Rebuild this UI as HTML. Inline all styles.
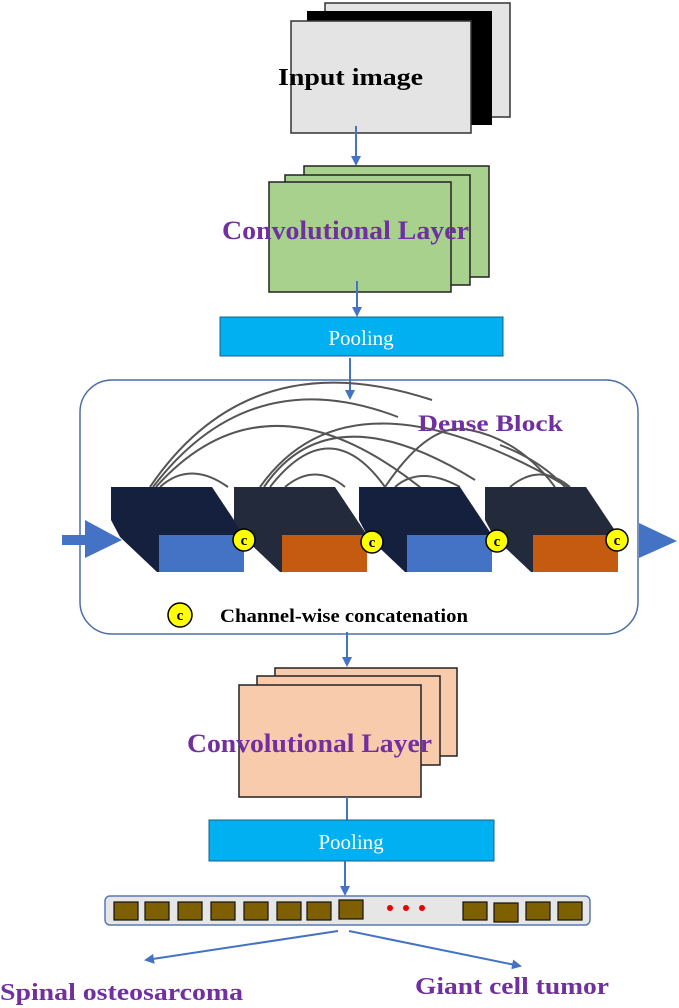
<!DOCTYPE html>
<html><head><meta charset="utf-8"><style>
html,body{margin:0;padding:0;background:#fff;}
svg{display:block;}
text{font-family:"Liberation Serif",serif;font-weight:bold;}
</style></head><body>
<svg width="679" height="1008" viewBox="0 0 679 1008" xmlns="http://www.w3.org/2000/svg">
<defs>
<marker id="ah" markerWidth="10" markerHeight="10" refX="8" refY="5" orient="auto" markerUnits="userSpaceOnUse">
<path d="M0,0 L10,5 L0,10 Z" fill="#4472c4"/></marker>
</defs>

<!-- Input image stack -->
<rect x="325" y="3" width="185" height="114" fill="#e4e4e4" stroke="#333" stroke-width="1.5"/>
<rect x="307" y="11" width="185" height="114" fill="#000"/>
<rect x="291" y="21" width="180" height="112" fill="#e4e4e4" stroke="#333" stroke-width="1.5"/>
<text x="278" y="85" font-size="24" fill="#000" textLength="145" lengthAdjust="spacingAndGlyphs">Input image</text>
<line x1="356" y1="126" x2="356" y2="164" stroke="#4472c4" stroke-width="2" marker-end="url(#ah)"/>

<!-- Conv green -->
<rect x="304" y="166" width="185" height="111" fill="#a9d18e" stroke="#222" stroke-width="1.5"/>
<rect x="285" y="175" width="185" height="110" fill="#a9d18e" stroke="#222" stroke-width="1.5"/>
<rect x="269" y="182" width="182" height="110" fill="#a9d18e" stroke="#222" stroke-width="1.5"/>
<text x="222" y="239" font-size="26" fill="#7030a0" textLength="247" lengthAdjust="spacingAndGlyphs">Convolutional Layer</text>
<line x1="357" y1="281" x2="357" y2="315" stroke="#4472c4" stroke-width="2" marker-end="url(#ah)"/>

<!-- Pooling 1 -->
<rect x="220" y="317" width="283" height="39" fill="#00b0f0" stroke="#1a5f8a" stroke-width="1"/>
<text x="361" y="345" font-size="21" fill="#fff" text-anchor="middle" style="font-weight:normal">Pooling</text>
<line x1="350" y1="358" x2="350" y2="398" stroke="#4472c4" stroke-width="2" marker-end="url(#ah)"/>

<!-- Dense block container -->
<rect x="80" y="380" width="558" height="254" rx="32" fill="none" stroke="#4a6fa5" stroke-width="1.5"/>

<!-- arcs -->
<g fill="none" stroke="#555" stroke-width="2">
<path d="M150,487 Q250,340 432,400"/>
<path d="M153,487 Q250,360 398,417"/>
<path d="M156,487 Q270,360 432,497"/>
<path d="M160,487 Q190,460 228,487"/>
<path d="M260,487 Q350,360 568,487"/>
<path d="M264,487 Q330,390 475,480"/>
<path d="M270,487 Q330,410 385,487"/>
<path d="M285,487 Q315,462 345,487"/>
<path d="M385,487 Q430,420 470,430 Q520,440 555,487"/>
<path d="M395,487 Q420,465 460,487"/>
<path d="M510,487 Q540,462 570,487"/>
<path d="M500,445 Q540,460 565,487"/>
</g>

<!-- input arrow -->
<rect x="62" y="535" width="26" height="10" fill="#4472c4"/>
<polygon points="85,520 122,540 85,558" fill="#4472c4"/>
<!-- output arrow -->
<polygon points="639,523 677,541 639,558" fill="#4472c4"/>

<!-- blocks -->
<polygon points="111,487 212,487 244,535 159,535 159,572 157,572 120,537 111,520" fill="#14203d"/>
<rect x="159" y="535" width="85" height="37" fill="#4472c4"/>
<polygon points="234,487 335,487 367,535 282,535 282,572 280,572 243,537 234,520" fill="#232a3c"/>
<rect x="282" y="535" width="85" height="37" fill="#c55a11"/>
<polygon points="359,487 460,487 492,535 407,535 407,572 405,572 368,537 359,520" fill="#14203d"/>
<rect x="407" y="535" width="85" height="37" fill="#4472c4"/>
<polygon points="485,487 586,487 618,535 533,535 533,572 531,572 494,537 485,520" fill="#232a3c"/>
<rect x="533" y="535" width="85" height="37" fill="#c55a11"/>

<!-- c circles -->
<g fill="#ffff00" stroke="#000" stroke-width="1.5">
<circle cx="244" cy="540" r="11"/>
<circle cx="372" cy="542" r="11"/>
<circle cx="497" cy="541" r="11"/>
<circle cx="617" cy="540" r="11"/>
<circle cx="180" cy="615" r="12"/>
</g>
<g font-size="15" fill="#000" text-anchor="middle">
<text x="244" y="545">c</text>
<text x="372" y="547">c</text>
<text x="497" y="546">c</text>
<text x="617" y="545">c</text>
<text x="180" y="620">c</text>
</g>

<text x="418" y="431" font-size="23" fill="#7030a0" textLength="145" lengthAdjust="spacingAndGlyphs">Dense Block</text>
<text x="220" y="622" font-size="19" fill="#000" textLength="248" lengthAdjust="spacingAndGlyphs">Channel-wise concatenation</text>

<line x1="347" y1="632" x2="347" y2="665" stroke="#4472c4" stroke-width="2" marker-end="url(#ah)"/>

<!-- Conv peach -->
<rect x="275" y="668" width="182" height="88" fill="#f8cbad" stroke="#222" stroke-width="1.5"/>
<rect x="257" y="676" width="183" height="89" fill="#f8cbad" stroke="#222" stroke-width="1.5"/>
<rect x="239" y="685" width="182" height="112" fill="#f8cbad" stroke="#222" stroke-width="1.5"/>
<text x="187" y="752" font-size="26" fill="#7030a0" textLength="245" lengthAdjust="spacingAndGlyphs">Convolutional Layer</text>
<line x1="347" y1="797" x2="347" y2="820" stroke="#4472c4" stroke-width="2"/>

<!-- Pooling 2 -->
<rect x="209" y="820" width="285" height="41" fill="#00b0f0" stroke="#1a5f8a" stroke-width="1"/>
<text x="351" y="849" font-size="21" fill="#fff" text-anchor="middle" style="font-weight:normal">Pooling</text>
<line x1="345" y1="861" x2="345" y2="894" stroke="#4472c4" stroke-width="2" marker-end="url(#ah)"/>

<!-- Feature bar -->
<rect x="105" y="896" width="485" height="29" rx="5" fill="#e6e6e6" stroke="#5a7ab0" stroke-width="1.5"/>
<g fill="#7f6000" stroke="#111" stroke-width="1.2">
<rect x="114" y="902" width="24" height="18"/>
<rect x="145" y="902" width="24" height="18"/>
<rect x="178" y="902" width="24" height="18"/>
<rect x="211" y="902" width="24" height="18"/>
<rect x="244" y="902" width="24" height="18"/>
<rect x="277" y="902" width="24" height="18"/>
<rect x="307" y="902" width="24" height="18"/>
<rect x="339" y="900" width="24" height="19"/>
<rect x="463" y="902" width="24" height="18"/>
<rect x="494" y="903" width="24" height="19"/>
<rect x="526" y="902" width="24" height="18"/>
<rect x="558" y="902" width="24" height="18"/>
</g>
<g fill="#e00">
<circle cx="390" cy="908" r="3"/>
<circle cx="406" cy="908" r="3"/>
<circle cx="422" cy="908" r="3"/>
</g>

<line x1="338" y1="931" x2="146" y2="960" stroke="#4472c4" stroke-width="2" marker-end="url(#ah)"/>
<line x1="349" y1="931" x2="520" y2="966" stroke="#4472c4" stroke-width="2" marker-end="url(#ah)"/>

<text x="0" y="1000" font-size="24" fill="#7030a0" textLength="243" lengthAdjust="spacingAndGlyphs">Spinal osteosarcoma</text>
<text x="415" y="994" font-size="24" fill="#7030a0" textLength="194" lengthAdjust="spacingAndGlyphs">Giant cell tumor</text>
</svg>
</body></html>
